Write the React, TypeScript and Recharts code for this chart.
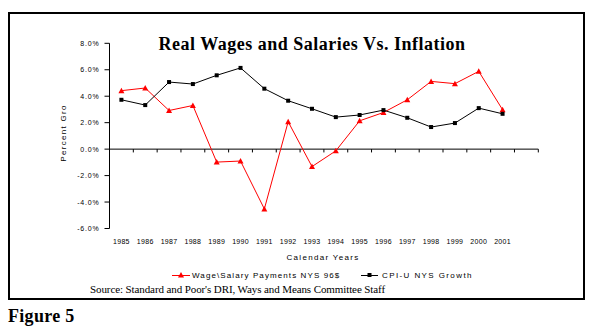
import React from 'react';
import { LineChart, Line, XAxis, YAxis, ReferenceLine } from 'recharts';

const years = ['1985','1986','1987','1988','1989','1990','1991','1992','1993','1994','1995','1996','1997','1998','1999','2000','2001'];
const wage = [4.42, 4.62, 2.92, 3.3, -0.98, -0.9, -4.52, 2.07, -1.32, -0.13, 2.14, 2.77, 3.73, 5.12, 4.95, 5.88, 2.98];
const cpi = [3.73, 3.33, 5.07, 4.92, 5.58, 6.14, 4.57, 3.66, 3.05, 2.42, 2.58, 2.95, 2.37, 1.67, 1.97, 3.1, 2.67];
const yTicks = [-6, -4, -2, 0, 2, 4, 6, 8];
const seriesNames = ['Wage\\Salary Payments NYS 96$', 'CPI-U NYS Growth'];

const data = years.map((y, i) => ({ idx: i, year: y, wage: wage[i], cpi: cpi[i] }));
const boundaries = years.map((_, i) => i + 0.5).concat([years.length + 0.5]);

const SANS = 'Liberation Sans, Arial, sans-serif';
const SERIF = 'Liberation Serif, Times New Roman, serif';

const Triangle = (props: any) => {
  const { cx, cy } = props;
  if (cx == null || cy == null) return null;
  return <path d={`M${cx - 3},${cy + 2.5} L${cx + 3},${cy + 2.5} L${cx},${cy - 3} Z`} fill="#ff0000" stroke="none" />;
};
const Square = (props: any) => {
  const { cx, cy } = props;
  if (cx == null || cy == null) return null;
  return <rect x={cx - 2} y={cy - 2} width={4} height={4} fill="#000" stroke="none" />;
};

const XTick = (props: any) => {
  const { x, y, payload } = props;
  return (
    <text x={x} y={y + 15.5} textAnchor="middle" fontSize={7} fontFamily={SANS} fill="#000" style={{ letterSpacing: '0.3px' }}>
      {years[payload.value]}
    </text>
  );
};
const YTick = (props: any) => {
  const { x, y, payload } = props;
  return (
    <text x={x} y={y + 2.5} textAnchor="end" fontSize={7} fontFamily={SANS} fill="#000" style={{ letterSpacing: '0.8px' }}>
      {payload.value.toFixed(1) + '%'}
    </text>
  );
};

export default function App() {
  return (
    <div style={{ position: 'absolute', left: 0, top: 0, width: 591, height: 331, background: '#fff' }}>
      <svg width={591} height={331} style={{ position: 'absolute', left: 0, top: 0 }}>
        <rect x={9} y={13} width={575} height={286} fill="none" stroke="#000" strokeWidth={2} />
        <text x={312} y={50} textAnchor="middle" fontFamily={SERIF} fontWeight="bold" fontSize={18} fill="#000" style={{ letterSpacing: '0.5px' }}>
          Real Wages and Salaries Vs. Inflation
        </text>
        <text x={65.5} y={133} transform="rotate(-90, 65.5, 133)" textAnchor="middle" fontFamily={SANS} fontSize={8} fill="#000" style={{ letterSpacing: '1.3px' }}>
          Percent Gro
        </text>
        <text x={323} y={260} textAnchor="middle" fontFamily={SANS} fontSize={8} fill="#000" style={{ letterSpacing: '1.3px' }}>
          Calendar Years
        </text>
        <line x1={172} y1={275.5} x2={190} y2={275.5} stroke="#ff0000" strokeWidth={1} />
        <Triangle cx={181} cy={275} />
        <text x={192} y={277.5} fontFamily={SANS} fontSize={8} fill="#000" style={{ letterSpacing: '1.1px' }}>
          {seriesNames[0]}
        </text>
        <line x1={361} y1={275.5} x2={378} y2={275.5} stroke="#000" strokeWidth={1} />
        <Square cx={369.5} cy={275} />
        <text x={382} y={277.5} fontFamily={SANS} fontSize={8} fill="#000" style={{ letterSpacing: '1.4px' }}>
          {seriesNames[1]}
        </text>
        <text x={90} y={293} fontFamily={SERIF} fontSize={11} fill="#000" style={{ letterSpacing: '-0.1px' }}>
          Source: Standard and Poor's DRI, Ways and Means Committee Staff
        </text>
        <text x={8} y={322} fontFamily={SERIF} fontWeight="bold" fontSize={18} fill="#000" style={{ letterSpacing: '0.3px' }}>
          Figure 5
        </text>
      </svg>
      <div style={{ position: 'absolute', left: 0, top: 0 }}>
        <LineChart width={591} height={331} data={data} margin={{ top: 43.3, right: 52.7, left: 49.5, bottom: 82.5 }}>
          <XAxis
            dataKey="idx"
            type="number"
            domain={[-0.5, years.length + 0.5]}
            ticks={years.map((_, i) => i)}
            interval={0}
            axisLine={false}
            tickLine={false}
            tickSize={0}
            tickMargin={0}
            height={20}
            tick={<XTick />}
          />
          <YAxis
            domain={[-6, 8]}
            ticks={yTicks}
            interval={0}
            width={60}
            axisLine={{ stroke: '#000' }}
            tickLine={{ stroke: '#000' }}
            tickSize={5}
            tickMargin={5}
            tick={<YTick />}
          />
          <ReferenceLine y={0} stroke="#000" strokeWidth={1} />
          {boundaries.map((b) => (
            <ReferenceLine key={b} segment={[{ x: b, y: 0 }, { x: b, y: -0.25 }]} stroke="#000" strokeWidth={1} ifOverflow="visible" />
          ))}
          <Line dataKey="wage" stroke="#ff0000" strokeWidth={1} dot={<Triangle />} activeDot={false} isAnimationActive={false} />
          <Line dataKey="cpi" stroke="#000" strokeWidth={1} dot={<Square />} activeDot={false} isAnimationActive={false} />
        </LineChart>
      </div>
    </div>
  );
}
